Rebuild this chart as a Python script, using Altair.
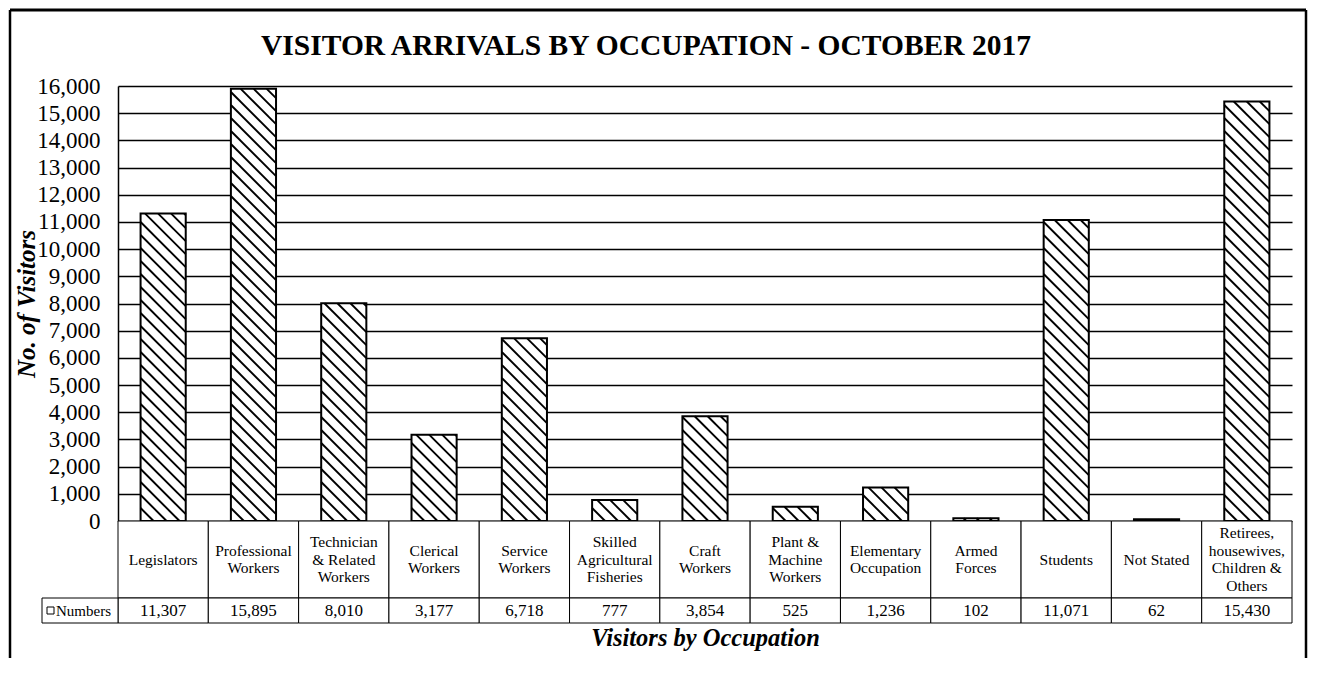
import altair as alt
import pandas as pd

TITLE = "VISITOR ARRIVALS BY OCCUPATION - OCTOBER 2017"
Y_TITLE = "No. of Visitors"
X_TITLE = "Visitors by Occupation"
ROW_LABEL = "Numbers"

categories = [
    "Legislators", "Professional Workers", "Technician & Related Workers",
    "Clerical Workers", "Service Workers", "Skilled Agricultural Fisheries",
    "Craft Workers", "Plant & Machine Workers", "Elementary Occupation",
    "Armed Forces", "Students", "Not Stated",
    "Retirees, housewives, Children & Others",
]
category_labels = [
    "Legislators", "Professional\nWorkers", "Technician\n& Related\nWorkers",
    "Clerical\nWorkers", "Service\nWorkers", "Skilled\nAgricultural\nFisheries",
    "Craft\nWorkers", "Plant &\nMachine\nWorkers", "Elementary\nOccupation",
    "Armed\nForces", "Students", "Not Stated",
    "Retirees,\nhousewives,\nChildren &\nOthers",
]
values = [11307, 15895, 8010, 3177, 6718, 777, 3854, 525, 1236, 102, 11071, 62, 15430]
y_ticks = list(range(0, 16001, 1000))

FONT = "Liberation Serif, Times New Roman, serif"
W, H = 1174, 435
YMAX = 16000
N = len(categories)
BAR_FRAC = 0.5
HALF = BAR_FRAC / 2
BW_PX = BAR_FRAC * W / N          # bar width in pixels
D = BW_PX * YMAX / H              # vertical drop (value units) of a 45deg hatch line across a bar
S = 13 * YMAX / H                 # hatch spacing (value units)

df = pd.DataFrame({
    "category": categories,
    "label": category_labels,
    "value": values,
    "idx": list(range(N)),
})

xscale = alt.Scale(domain=[-0.5, N - 0.5], nice=False, zero=False)
yscale = alt.Scale(domain=[0, YMAX], nice=False)

yaxis = alt.Axis(
    values=y_ticks, labelExpr="format(datum.value, ',d')", grid=True, gridColor="black",
    gridWidth=1.3, gridOpacity=1, ticks=False, domain=True, domainColor="black",
    domainWidth=1.5, labelFont=FONT, labelFontSize=23, labelColor="black", labelPadding=18,
    title=Y_TITLE, titleFont=FONT, titleFontSize=25, titleFontStyle="italic",
    titleFontWeight="bold", titleColor="black", titlePadding=-3,
)

base = alt.Chart(df).transform_calculate(
    xl=f"datum.idx - {HALF}", xr=f"datum.idx + {HALF}", zero="0"
)

bars = base.mark_bar(fill="white").encode(
    x=alt.X("xl:Q", scale=xscale, axis=None),
    x2="xr:Q",
    y=alt.Y("value:Q", scale=yscale, axis=yaxis),
    y2="zero:Q",
)

hatch = alt.Chart(df).transform_calculate(
    k="sequence(0, 60)"
).transform_flatten(["k"]).transform_calculate(
    c=f"datum.k * {S}"
).transform_calculate(
    ya="min(datum.c, datum.value)", yb=f"max(datum.c - {D}, 0)"
).transform_filter("datum.ya > datum.yb").transform_calculate(
    xa=f"datum.idx - {HALF} + (datum.c - datum.ya) / {D} * {BAR_FRAC}",
    xb=f"datum.idx - {HALF} + (datum.c - datum.yb) / {D} * {BAR_FRAC}",
).mark_rule(color="black", strokeWidth=1.9).encode(
    x=alt.X("xa:Q", scale=xscale, axis=None),
    x2="xb:Q",
    y=alt.Y("ya:Q", scale=yscale, axis=yaxis),
    y2="yb:Q",
)

outline = base.mark_bar(fill="white", fillOpacity=0, stroke="black", strokeWidth=2).encode(
    x=alt.X("xl:Q", scale=xscale, axis=None),
    x2="xr:Q",
    y=alt.Y("value:Q", scale=yscale, axis=yaxis),
    y2="zero:Q",
)

one = pd.DataFrame({"t": [TITLE]})
title_text = alt.Chart(one).mark_text(
    font=FONT, fontSize=29.5, fontWeight="bold", color="black", baseline="middle", align="center"
).encode(text="t:N", x=alt.value(528), y=alt.value(-40))

FR_L, FR_R, FR_T, FR_B = -108, 1188, -76, 572
frame_left = alt.Chart(one).mark_rule(color="black", strokeWidth=2.5).encode(
    x=alt.value(FR_L), y=alt.value(FR_T), y2=alt.value(FR_B))
frame_right = alt.Chart(one).mark_rule(color="black", strokeWidth=2.5).encode(
    x=alt.value(FR_R), y=alt.value(FR_T), y2=alt.value(FR_B))
frame_top = alt.Chart(one).mark_rule(color="black", strokeWidth=3).encode(
    x=alt.value(FR_L), x2=alt.value(FR_R), y=alt.value(FR_T))

top = alt.layer(frame_left, frame_right, frame_top, bars, hatch, outline, title_text).properties(
    width=W, height=H)

# ---- data table below the plot ----
ROW1, ROW2 = 77, 102
LH = 17.5
xaxis = alt.Axis(
    title=X_TITLE, labels=False, ticks=False, domain=False, grid=False,
    titleFont=FONT, titleFontSize=24.5, titleFontStyle="italic", titleFontWeight="bold",
    titleColor="black", titlePadding=3,
)
tyscale = alt.Scale(domain=[0, ROW2], range=[0, ROW2], nice=False, zero=False)
tbase = alt.Chart(df).transform_calculate(xl="datum.idx - 0.5", xr="datum.idx + 0.5")

cat_cells = tbase.mark_rect(fill="white", stroke="black", strokeWidth=1).encode(
    x=alt.X("xl:Q", scale=xscale, axis=xaxis), x2="xr:Q",
    y=alt.value(0), y2=alt.value(ROW1))
num_cells = tbase.mark_rect(fill="white", stroke="black", strokeWidth=1).encode(
    x=alt.X("xl:Q", scale=xscale, axis=xaxis), x2="xr:Q",
    y=alt.value(ROW1), y2=alt.value(ROW2))
cat_text = tbase.transform_calculate(
    nl="length(split(datum.label, '\\n'))"
).transform_calculate(
    ty=f"{ROW1 / 2} - (datum.nl - 1) * {LH / 2}"
).mark_text(
    font=FONT, fontSize=15.5, lineHeight=LH, lineBreak="\n", color="black", baseline="middle"
).encode(x=alt.X("idx:Q", scale=xscale, axis=xaxis),
         y=alt.Y("ty:Q", scale=tyscale, axis=None), text="label:N")
num_text = tbase.mark_text(
    font=FONT, fontSize=17, color="black", baseline="middle"
).encode(x=alt.X("idx:Q", scale=xscale, axis=xaxis), y=alt.value((ROW1 + ROW2) / 2),
         text=alt.Text("value:Q", format=",d"))

row_df = pd.DataFrame({"t": [ROW_LABEL]})
row_cell = alt.Chart(row_df).mark_rect(fill="white", stroke="black", strokeWidth=1).encode(
    x=alt.value(-76), x2=alt.value(0), y=alt.value(ROW1), y2=alt.value(ROW2))
row_square = alt.Chart(row_df).mark_rect(fill="white", stroke="black", strokeWidth=1).encode(
    x=alt.value(-71), x2=alt.value(-64), y=alt.value(86), y2=alt.value(93))
row_text = alt.Chart(row_df).mark_text(
    font=FONT, fontSize=15, color="black", align="left", baseline="middle"
).encode(x=alt.value(-62), y=alt.value((ROW1 + ROW2) / 2), text="t:N")

table = alt.layer(cat_cells, num_cells, cat_text, num_text, row_cell, row_square, row_text).properties(
    width=W, height=ROW2)

chart = alt.vconcat(top, table, spacing=0, bounds="flush").properties(
    padding=0, background="white"
).configure_view(strokeWidth=0)

chart.save("out.html", embed_options={"renderer": "svg", "actions": False})
